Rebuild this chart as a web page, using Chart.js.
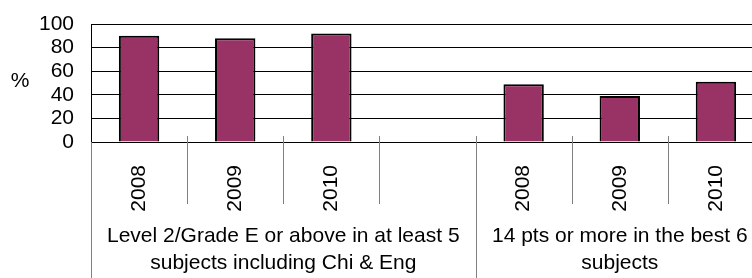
<!DOCTYPE html>
<html lang="en">
<head>
<meta charset="UTF-8">
<title>Resultados</title>
<script src="https://cdn.jsdelivr.net/npm/chart.js"></script>
<style>
  html, body { margin: 0; padding: 0; overflow: hidden; background: #fff; }
  .grafico { position: relative; width: 764px; height: 278px; }
</style>
</head>
<body>

<div class="grafico">
  <canvas id="myChart"></canvas>
</div>

<script>
  // dados
  const anos = ['2008', '2009', '2010', '', '2008', '2009', '2010'];
  const percentuais = [90, 88, 92, null, 49, 39, 51];
  const grupos = [
    ['Level 2/Grade E or above in at least 5', 'subjects including Chi & Eng'],
    ['14 pts or more in the best 6', 'subjects']
  ];
  const inicioGrupos = [0, 4];
  const fimGrupos = [3, 6];
  const ticksY = [0, 20, 40, 60, 80, 100];

  const fonte = '"Liberation Sans", Arial, sans-serif';

  // linhas divisorias, rotulos dos grupos e o "%"
  const divisorias = {
    id: 'divisorias',
    afterDraw(chart) {
      const ctx = chart.ctx;
      const x = chart.scales.x;
      const area = chart.chartArea;
      const meia = (x.getPixelForValue(1) - x.getPixelForValue(0)) / 2;

      ctx.save();
      ctx.strokeStyle = '#808080';
      ctx.lineWidth = 1;

      // linha da esquerda abaixo do eixo
      let px = Math.round(area.left) + 0.5;
      ctx.beginPath();
      ctx.moveTo(px, area.bottom);
      ctx.lineTo(px, chart.height);
      ctx.stroke();

      for (let i = 1; i < anos.length; i++) {
        px = Math.round(x.getPixelForValue(i) - meia) + 0.5;
        const fim = inicioGrupos.includes(i) ? chart.height : area.bottom + 62;
        ctx.beginPath();
        ctx.moveTo(px, area.bottom - 6);
        ctx.lineTo(px, fim);
        ctx.stroke();
      }

      ctx.fillStyle = '#000';
      ctx.font = '21px ' + fonte;
      ctx.textAlign = 'center';
      ctx.textBaseline = 'middle';
      for (let g = 0; g < grupos.length; g++) {
        const esq = x.getPixelForValue(inicioGrupos[g]) - meia;
        const dir = x.getPixelForValue(fimGrupos[g]) + meia;
        const cx = (esq + dir) / 2;
        grupos[g].forEach(function (linha, k) {
          ctx.fillText(linha, cx, 236 + k * 27);
        });
      }

      ctx.fillText('%', 20, 81);
      ctx.restore();
    }
  };

  const dados = {
    labels: anos,
    datasets: [{
      data: percentuais,
      backgroundColor: '#993366',
      borderColor: '#000',
      borderWidth: 2,
      categoryPercentage: 1,
      barPercentage: 0.42
    }]
  };

  const config = {
    type: 'bar',
    data: dados,
    options: {
      responsive: true,
      maintainAspectRatio: false,
      animation: false,
      layout: { padding: { top: 24, left: 0, right: 0, bottom: 0 } },
      plugins: {
        legend: { display: false },
        tooltip: { enabled: false }
      },
      scales: {
        x: {
          grid: { display: false },
          border: { color: '#000', width: 1 },
          ticks: {
            color: '#000',
            font: { size: 21, family: fonte },
            minRotation: 90,
            maxRotation: 90,
            autoSkip: false,
            padding: 15
          },
          afterFit: function (s) {
            s.height = 136;
            s.paddingTop = 0;
            s.paddingRight = 0;
          }
        },
        y: {
          min: 0,
          max: 100,
          afterBuildTicks: function (s) { s.ticks = ticksY.map(v => ({ value: v })); },
          grid: { color: '#000', drawTicks: false },
          border: { color: '#000', width: 1 },
          ticks: {
            color: '#000',
            font: { size: 21, family: fonte },
            autoSkip: false,
            padding: 17
          },
          afterFit: function (s) {
            s.width = 91;
            s.paddingTop = 0;
            s.paddingBottom = 0;
          }
        }
      }
    },
    plugins: [divisorias]
  };

  let myChart = new Chart(document.getElementById('myChart'), config);
</script>
</body>
</html>
